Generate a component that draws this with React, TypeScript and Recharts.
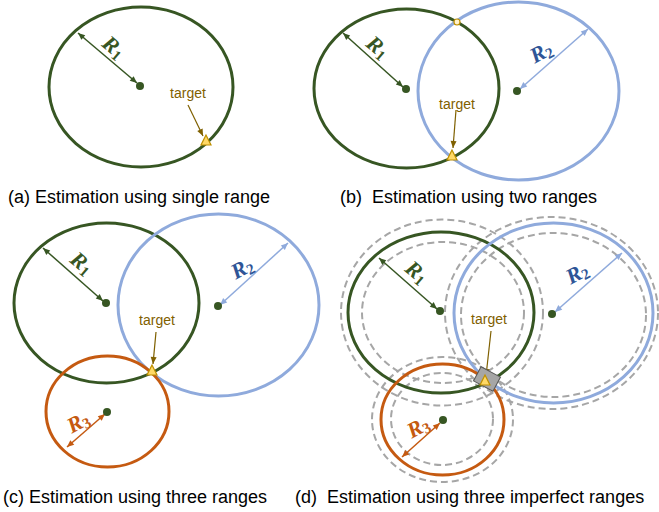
import React from 'react';
import { ComposedChart, XAxis, YAxis, ReferenceArea, ReferenceLine, ReferenceDot, Scatter } from 'recharts';

// ---- data (diagram coordinates, x → right, y → down) ----
const solidRings = [
  { kind: 'R1', cx: 141, cy: 87, rx: 92, ry: 80 },
  { kind: 'R1', cx: 406.5, cy: 88.5, rx: 92.5, ry: 79.5 },
  { kind: 'R2', cx: 518.5, cy: 91, rx: 100.5, ry: 89 },
  { kind: 'R1', cx: 106.5, cy: 303, rx: 92.5, ry: 80 },
  { kind: 'R2', cx: 218.5, cy: 305, rx: 100.5, ry: 91 },
  { kind: 'R3', cx: 107.5, cy: 411.5, rx: 61.5, ry: 55.5 },
  { kind: 'R1', cx: 441, cy: 312.5, rx: 93, ry: 80.5 },
  { kind: 'R2', cx: 553.5, cy: 313, rx: 99.5, ry: 90 },
  { kind: 'R3', cx: 442.5, cy: 419.5, rx: 61.5, ry: 55.5 },
];

const errorRings = [
  { cx: 442, cy: 312.5, rx: 101, ry: 93 },
  { cx: 443, cy: 312.5, rx: 81, ry: 70.5 },
  { cx: 551.5, cy: 313, rx: 106.5, ry: 96 },
  { cx: 553.5, cy: 315, rx: 92.5, ry: 82 },
  { cx: 442.5, cy: 419.5, rx: 70.5, ry: 62.5 },
  { cx: 442, cy: 419, rx: 51, ry: 46 },
];

const centers = [
  { x: 140, y: 86 },
  { x: 406, y: 89 },
  { x: 517, y: 91 },
  { x: 106, y: 303 },
  { x: 218, y: 306 },
  { x: 107, y: 412 },
  { x: 440, y: 311 },
  { x: 552, y: 314 },
  { x: 443, y: 420 },
];

const radiusArrows = [
  { kind: 'R1', x1: 78, y1: 33, x2: 137, y2: 83 },
  { kind: 'R1', x1: 343, y1: 33, x2: 403, y2: 87 },
  { kind: 'R2', x1: 588, y1: 29, x2: 520, y2: 89 },
  { kind: 'R1', x1: 43, y1: 248, x2: 103, y2: 301 },
  { kind: 'R2', x1: 288, y1: 243, x2: 220, y2: 305 },
  { kind: 'R3', x1: 67, y1: 447, x2: 105, y2: 414 },
  { kind: 'R1', x1: 379, y1: 258, x2: 437, y2: 309 },
  { kind: 'R2', x1: 622, y1: 253, x2: 555, y2: 312 },
  { kind: 'R3', x1: 402, y1: 457, x2: 440, y2: 423 },
];

const radiusLabels = [
  { kind: 'R1', sub: '1', x: 114, y: 47, angle: 40 },
  { kind: 'R1', sub: '1', x: 378, y: 47, angle: 40 },
  { kind: 'R2', sub: '2', x: 541, y: 52, angle: -28 },
  { kind: 'R1', sub: '1', x: 82, y: 263, angle: 40 },
  { kind: 'R2', sub: '2', x: 242, y: 268, angle: -28 },
  { kind: 'R3', sub: '3', x: 78, y: 422, angle: -28 },
  { kind: 'R1', sub: '1', x: 417, y: 272, angle: 40 },
  { kind: 'R2', sub: '2', x: 577, y: 273, angle: -28 },
  { kind: 'R3', sub: '3', x: 418, y: 427, angle: -28 },
];

const targets = [
  { x: 206, y: 141 },
  { x: 452, y: 156 },
  { x: 152, y: 371 },
  { x: 485, y: 381 },
];

const targetLabels = [
  { x: 188, y: 93 },
  { x: 457, y: 104 },
  { x: 157, y: 320 },
  { x: 489, y: 319 },
];

const targetArrows = [
  { x1: 188, y1: 105, x2: 203, y2: 136 },
  { x1: 456, y1: 110, x2: 453, y2: 148 },
  { x1: 156, y1: 332, x2: 153, y2: 364 },
  { x1: 491, y1: 331, x2: 486, y2: 376 },
];

const intersections = [{ x: 457, y: 22 }];
const errorZones = [{ x: 487, y: 379 }];

const captions = [
  { text: '(a) Estimation using single range', x: 8, y: 203 },
  { text: '(b)  Estimation using two ranges', x: 340, y: 203 },
  { text: '(c) Estimation using three ranges', x: 3, y: 503 },
  { text: '(d)  Estimation using three imperfect ranges', x: 295, y: 503 },
];

// ---- styles ----
const ringColor: Record<string, string> = { R1: '#375623', R2: '#8faadc', R3: '#c55a11' };
const labelColor: Record<string, string> = { R1: '#375623', R2: '#2f5597', R3: '#c55a11' };
const TARGET_TEXT = '#7f6000';
const SANS = "'Liberation Sans', Arial, sans-serif";
const SERIF = "'Liberation Serif', 'Times New Roman', serif";

function head(x1: number, y1: number, x2: number, y2: number, color: string, len = 7, w = 3) {
  const a = Math.atan2(y2 - y1, x2 - x1);
  const bx = x2 - len * Math.cos(a);
  const by = y2 - len * Math.sin(a);
  const px = -Math.sin(a) * w;
  const py = Math.cos(a) * w;
  return <polygon points={`${x2},${y2} ${bx + px},${by + py} ${bx - px},${by - py}`} fill={color} />;
}

const ellipseShape = (stroke: string, width: number, dash?: string) => (p: any) => (
  <ellipse
    cx={p.x + p.width / 2}
    cy={p.y + p.height / 2}
    rx={Math.abs(p.width) / 2}
    ry={Math.abs(p.height) / 2}
    fill="none"
    stroke={stroke}
    strokeWidth={width}
    strokeDasharray={dash}
  />
);

const arrowShape = (color: string, both: boolean, width: number) => (p: any) => (
  <g>
    <line x1={p.x1} y1={p.y1} x2={p.x2} y2={p.y2} stroke={color} strokeWidth={width} />
    {head(p.x1, p.y1, p.x2, p.y2, color)}
    {both ? head(p.x2, p.y2, p.x1, p.y1, color) : null}
  </g>
);

const centerDot = (p: any) => <circle cx={p.cx} cy={p.cy} r={4} fill="#375623" />;

const triangleShape = (p: any) => (
  <polygon
    points={`${p.cx},${p.cy - 6} ${p.cx - 5},${p.cy + 4} ${p.cx + 5},${p.cy + 4}`}
    fill="#ffd966"
    stroke="#bf9000"
    strokeWidth={1.2}
  />
);

export default function App() {
  return (
    <div style={{ position: 'absolute', left: 0, top: 0, width: 659, height: 512, background: '#fff' }}>
      <ComposedChart width={659} height={512} margin={{ top: 0, right: 0, bottom: 0, left: 0 }}>
        <XAxis type="number" dataKey="x" domain={[0, 659]} allowDataOverflow hide />
        <YAxis type="number" dataKey="y" domain={[0, 512]} reversed allowDataOverflow hide />

        {errorRings.map((r, i) => (
          <ReferenceArea
            key={`e${i}`}
            x1={r.cx - r.rx}
            x2={r.cx + r.rx}
            y1={r.cy - r.ry}
            y2={r.cy + r.ry}
            ifOverflow="visible"
            shape={ellipseShape('#a6a6a6', 2, '7 4')}
          />
        ))}
        {solidRings.map((r, i) => (
          <ReferenceArea
            key={`s${i}`}
            x1={r.cx - r.rx}
            x2={r.cx + r.rx}
            y1={r.cy - r.ry}
            y2={r.cy + r.ry}
            ifOverflow="visible"
            shape={ellipseShape(ringColor[r.kind], 3)}
          />
        ))}

        {radiusArrows.map((a, i) => (
          <ReferenceLine
            key={`ra${i}`}
            segment={[{ x: a.x1, y: a.y1 }, { x: a.x2, y: a.y2 }]}
            ifOverflow="visible"
            shape={arrowShape(ringColor[a.kind], true, 1.5)}
          />
        ))}
        {targetArrows.map((a, i) => (
          <ReferenceLine
            key={`ta${i}`}
            segment={[{ x: a.x1, y: a.y1 }, { x: a.x2, y: a.y2 }]}
            ifOverflow="visible"
            shape={arrowShape(TARGET_TEXT, false, 1.2)}
          />
        ))}

        {errorZones.map((z, i) => (
          <ReferenceDot
            key={`z${i}`}
            x={z.x}
            y={z.y}
            r={0}
            ifOverflow="visible"
            shape={(p: any) => (
              <rect
                x={p.cx - 11}
                y={p.cy - 8}
                width={22}
                height={16}
                transform={`rotate(28 ${p.cx} ${p.cy})`}
                fill="#a6a6a6"
                stroke="#595959"
                strokeWidth={1}
              />
            )}
          />
        ))}

        <Scatter data={centers} isAnimationActive={false} shape={centerDot} />
        <Scatter data={targets} isAnimationActive={false} shape={triangleShape} />

        {intersections.map((d, i) => (
          <ReferenceDot
            key={`int${i}`}
            x={d.x}
            y={d.y}
            r={3}
            ifOverflow="visible"
            shape={(p: any) => <circle cx={p.cx} cy={p.cy} r={3} fill="#fff2cc" stroke="#bf9000" strokeWidth={1.2} />}
          />
        ))}

        {targetLabels.map((t, i) => (
          <ReferenceDot
            key={`tl${i}`}
            x={t.x}
            y={t.y}
            r={0}
            ifOverflow="visible"
            shape={(p: any) => (
              <text x={p.cx} y={p.cy} textAnchor="middle" dominantBaseline="central" fontFamily={SANS} fontSize={14} fill={TARGET_TEXT}>
                target
              </text>
            )}
          />
        ))}

        {radiusLabels.map((l, i) => (
          <ReferenceDot
            key={`rl${i}`}
            x={l.x}
            y={l.y}
            r={0}
            ifOverflow="visible"
            shape={(p: any) => (
              <text
                x={p.cx}
                y={p.cy}
                transform={`rotate(${l.angle} ${p.cx} ${p.cy})`}
                textAnchor="middle"
                dominantBaseline="central"
                fontFamily={SERIF}
                fontStyle="italic"
                fontWeight="bold"
                fontSize={22}
                fill={labelColor[l.kind]}
              >
                R
                <tspan fontSize={15} dy={5} fontStyle="normal">
                  {l.sub}
                </tspan>
              </text>
            )}
          />
        ))}

        {captions.map((c, i) => (
          <ReferenceDot
            key={`c${i}`}
            x={c.x}
            y={c.y}
            r={0}
            ifOverflow="visible"
            shape={(p: any) => (
              <text x={p.cx} y={p.cy} textAnchor="start" fontFamily={SANS} fontSize={18} fill="#000" style={{ whiteSpace: 'pre' }}>
                {c.text}
              </text>
            )}
          />
        ))}
      </ComposedChart>
    </div>
  );
}
